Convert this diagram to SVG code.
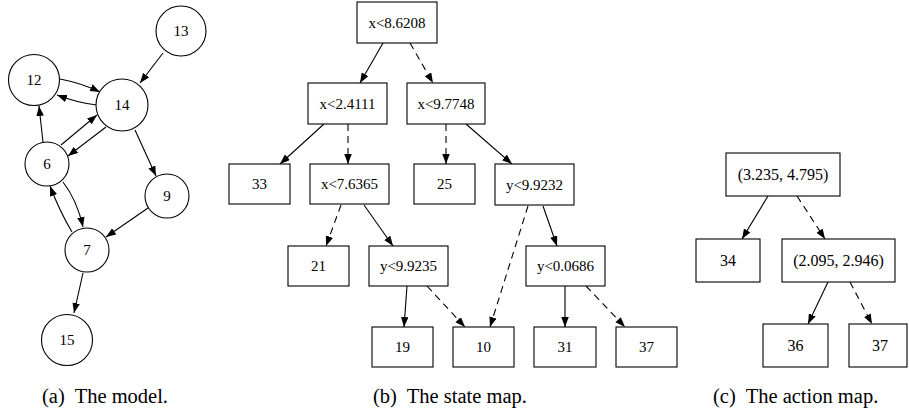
<svg xmlns="http://www.w3.org/2000/svg" width="909" height="412" viewBox="0 0 909 412">
<style>
.n{fill:#fff;stroke:#000;stroke-width:1.1}
.t{font-family:"Liberation Serif","Times New Roman",serif;font-size:15px;text-anchor:middle;fill:#000}
.ta{font-family:"Liberation Serif","Times New Roman",serif;font-size:16px;text-anchor:middle;fill:#000}
.cap{font-family:"Liberation Serif","Times New Roman",serif;font-size:20.5px;fill:#000}
.e{fill:none;stroke:#000;stroke-width:1.1;marker-end:url(#ah)}
.d{stroke-dasharray:7,5}
</style>
<defs>
<marker id="ah" markerUnits="userSpaceOnUse" markerWidth="11" markerHeight="8" refX="10" refY="3.75" orient="auto">
<path d="M0,0 L10,3.75 L0,7.5 z" fill="#000"/>
</marker>
</defs>
<rect width="909" height="412" fill="#fff"/>
<g id="connectors">
<path class="e" d="M163,53 L140,83"/>
<path class="e" d="M60,79 Q81,83 100,92"/>
<path class="e" d="M97,105 Q78,103 57,95"/>
<path class="e" d="M43,142 L39,106"/>
<path class="e" d="M61,145 L97,115"/>
<path class="e" d="M106,127 L68,156"/>
<path class="e" d="M135,130 L156,176"/>
<path class="e" d="M63,182 Q77,200 83,227"/>
<path class="e" d="M72,232 Q60,212 50,186"/>
<path class="e" d="M148,208 L106,237"/>
<path class="e" d="M83,273 L74,313"/>
<path class="e" d="M383,43 L360,83"/>
<path class="e d" d="M410,43 L433,83"/>
<path class="e" d="M324,124 L280,164"/>
<path class="e d" d="M348,124 L348,164"/>
<path class="e d" d="M446,124 L446,164"/>
<path class="e" d="M466,124 L512,164"/>
<path class="e d" d="M341,205 L326,246"/>
<path class="e" d="M364,205 L393,246"/>
<path class="e" d="M407,286 L404,327"/>
<path class="e d" d="M427,286 L465,327"/>
<path class="e d" d="M528,206 L490,327"/>
<path class="e" d="M543,206 L557,246"/>
<path class="e" d="M565,286 L565,327"/>
<path class="e d" d="M586,286 L625,327"/>
<path class="e" d="M768,196 L742,239"/>
<path class="e d" d="M797,196 L825,239"/>
<path class="e" d="M828,282 L808,324"/>
<path class="e d" d="M850,282 L872,324"/>
</g>
<g id="m13"><circle class="n" cx="181" cy="31" r="25"/><text class="t" x="181" y="36">13</text></g>
<g id="m12"><circle class="n" cx="34" cy="80" r="25.5"/><text class="t" x="34" y="85">12</text></g>
<g id="m14"><circle class="n" cx="122" cy="105" r="26"/><text class="t" x="122" y="110">14</text></g>
<g id="m6"><circle class="n" cx="47" cy="164" r="22"/><text class="t" x="47" y="169">6</text></g>
<g id="m9"><circle class="n" cx="167" cy="196" r="22"/><text class="t" x="167" y="201">9</text></g>
<g id="m7"><circle class="n" cx="87" cy="250" r="22"/><text class="t" x="87" y="255">7</text></g>
<g id="m15"><circle class="n" cx="67" cy="340" r="25.5"/><text class="t" x="67" y="345">15</text></g>
<g id="s_root"><rect class="n" x="357" y="2" width="80" height="41"/><text class="t" x="397" y="27.5">x&lt;8.6208</text></g>
<g id="s_x24"><rect class="n" x="308" y="83" width="79" height="41"/><text class="t" x="347.5" y="108.5">x&lt;2.4111</text></g>
<g id="s_x97"><rect class="n" x="407" y="83" width="78" height="41"/><text class="t" x="446" y="108.5">x&lt;9.7748</text></g>
<g id="s_33"><rect class="n" x="229" y="164" width="61" height="40"/><text class="t" x="259.5" y="189">33</text></g>
<g id="s_x76"><rect class="n" x="310" y="164" width="79" height="40"/><text class="t" x="349.5" y="189">x&lt;7.6365</text></g>
<g id="s_25"><rect class="n" x="414" y="164" width="61" height="40"/><text class="t" x="444.5" y="189">25</text></g>
<g id="s_y99a"><rect class="n" x="495" y="164" width="79" height="41"/><text class="t" x="534.5" y="189.5">y&lt;9.9232</text></g>
<g id="s_21"><rect class="n" x="288" y="246" width="61" height="40"/><text class="t" x="318.5" y="271">21</text></g>
<g id="s_y99b"><rect class="n" x="369" y="246" width="79" height="40"/><text class="t" x="408.5" y="271">y&lt;9.9235</text></g>
<g id="s_y00"><rect class="n" x="526" y="246" width="79" height="40"/><text class="t" x="565.5" y="271">y&lt;0.0686</text></g>
<g id="s_19"><rect class="n" x="372" y="327" width="61" height="40"/><text class="t" x="402.5" y="352">19</text></g>
<g id="s_10"><rect class="n" x="453" y="327" width="61" height="40"/><text class="t" x="483.5" y="352">10</text></g>
<g id="s_31"><rect class="n" x="534" y="327" width="62" height="40"/><text class="t" x="565" y="352">31</text></g>
<g id="s_37"><rect class="n" x="616" y="327" width="61" height="40"/><text class="t" x="646.5" y="352">37</text></g>
<g id="a_root"><rect class="n" x="726" y="153" width="114" height="43"/><text class="ta" x="783" y="180">(3.235, 4.795)</text></g>
<g id="a_34"><rect class="n" x="696" y="239" width="64" height="43"/><text class="ta" x="728" y="266">34</text></g>
<g id="a_mid"><rect class="n" x="782" y="239" width="113" height="43"/><text class="ta" x="838.5" y="266">(2.095, 2.946)</text></g>
<g id="a_36"><rect class="n" x="763" y="324" width="65" height="43"/><text class="ta" x="795.5" y="351">36</text></g>
<g id="a_37"><rect class="n" x="849" y="324" width="58" height="43"/><text class="ta" x="880" y="351">37</text></g>
<text class="cap" x="42" y="403" xml:space="preserve">(a)  The model.</text>
<text class="cap" x="373" y="403" xml:space="preserve">(b)  The state map.</text>
<text class="cap" x="713" y="403" xml:space="preserve">(c)  The action map.</text>
</svg>
